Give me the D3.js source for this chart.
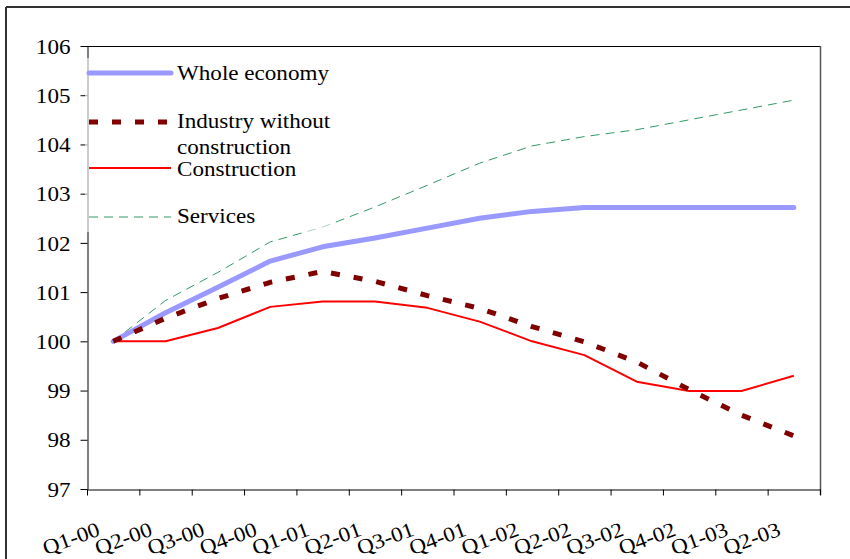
<!DOCTYPE html>
<html>
<head>
<meta charset="utf-8">
<script src="https://cdn.jsdelivr.net/npm/d3@7/dist/d3.min.js"></script>
<style>
  html, body { margin: 0; padding: 0; background: #fff; }
  svg { display: block; }
</style>
</head>
<body>
<svg id="chart" width="850" height="559"></svg>
<script>
// Quarterly labels
const categories = ["Q1-00","Q2-00","Q3-00","Q4-00","Q1-01","Q2-01","Q3-01","Q4-01",
                    "Q1-02","Q2-02","Q3-02","Q4-02","Q1-03","Q2-03"];

// Index values (Q1-00 = 100)
const wholeEconomy = [100, 100.58, 101.1, 101.63, 101.92, 102.1, 102.3, 102.5, 102.64, 102.72,
                      102.72, 102.72, 102.72, 102.72];
const industry     = [100, 100.47, 100.87, 101.2, 101.42, 101.22, 100.93, 100.67, 100.3, 99.99,
                      99.58, 99.02, 98.5, 98.08];
const construction = [100, 100, 100.27, 100.7, 100.81, 100.81, 100.68, 100.4, 100, 99.72,
                      99.18, 98.99, 98.99, 99.3];
const services     = [100, 100.83, 101.4, 102.02, 102.32, 102.73, 103.17, 103.62, 103.97, 104.16,
                      104.3, 104.5, 104.7, 104.9];

const yTicks = [97, 98, 99, 100, 101, 102, 103, 104, 105, 106];

const series = [
  { name: ["Whole economy"], values: wholeEconomy, color: "#9999ff", width: 5, dash: null, cap: "round" },
  { name: ["Industry without", "construction"], values: industry, color: "#800000", width: 5, dash: "9,14", cap: "butt" },
  { name: ["Construction"], values: construction, color: "#ff0000", width: 2, dash: null, cap: "butt" },
  { name: ["Services"], values: services, color: "#339966", width: 1, dash: "9,6", cap: "butt" }
];

const svg = d3.select("#chart").attr("font-family", "Liberation Serif");
const plot = { left: 87, right: 820, top: 46, bottom: 489 };
const FONT = '"Liberation Serif"';
const FS = 21, SX = 1.1;

// outer frame
svg.append("line").attr("x1", 6).attr("x2", 850).attr("y1", 7).attr("y2", 7)
  .attr("stroke", "#333").attr("stroke-width", 2);
svg.append("line").attr("x1", 6).attr("x2", 6).attr("y1", 7).attr("y2", 559)
  .attr("stroke", "#333").attr("stroke-width", 2);

const x = d3.scaleBand().domain(categories).range([plot.left, plot.right]);
const xEdge = d3.scaleLinear().domain([0, categories.length]).range([plot.left, plot.right]);
const y = d3.scaleLinear().domain([97, 106]).range([plot.bottom, plot.top]);

// plot frame: top and right borders
svg.append("line").attr("x1", plot.left).attr("x2", plot.right).attr("y1", plot.top + 0.5).attr("y2", plot.top + 0.5)
  .attr("stroke", "#000").attr("stroke-width", 1);
svg.append("line").attr("x1", plot.right + 0.5).attr("x2", plot.right + 0.5).attr("y1", plot.top).attr("y2", plot.bottom + 6)
  .attr("stroke", "#555").attr("stroke-width", 1.5);

// y axis
const yAxis = svg.append("g").attr("transform", `translate(${plot.left + 0.5},0)`)
  .call(d3.axisLeft(y).tickValues(yTicks).tickSize(7).tickSizeOuter(0).tickFormat(d3.format("d")));
yAxis.attr("font-family", "Liberation Serif").attr("font-size", FS);
yAxis.selectAll("path, line").attr("stroke", "#000");
yAxis.selectAll("text")
  .attr("x", 0).attr("dy", "0.34em")
  .attr("fill", "#000")
  .attr("transform", `translate(-17,0) scale(${SX},1)`)
  .style("font-size", FS + "px").style("font-family", FONT);

// x axis (ticks at category boundaries)
const xAxis = svg.append("g").attr("transform", `translate(0,${plot.bottom + 0.5})`)
  .call(d3.axisBottom(xEdge).tickValues(d3.range(categories.length + 1)).tickSize(6).tickSizeOuter(0).tickFormat(""));
xAxis.selectAll("path, line").attr("stroke", "#000");

svg.append("g").selectAll("text").data(categories).join("text")
  .attr("text-anchor", "end")
  .attr("fill", "#000")
  .attr("transform", d => `translate(${x(d) + x.bandwidth() / 2 - 12},535) rotate(-20) scale(${SX},1)`)
  .style("font-size", FS + "px").style("font-family", FONT)
  .text(d => d);

// series lines
const line = d3.line()
  .x((d, i) => x(categories[i]) + x.bandwidth() / 2)
  .y(d => y(d));

const order = [3, 2, 0, 1];
svg.append("g").selectAll("path").data(order.map(i => series[i])).join("path")
  .attr("d", s => line(s.values))
  .attr("fill", "none")
  .attr("stroke", s => s.color)
  .attr("stroke-width", s => s.width)
  .attr("stroke-dasharray", s => s.dash)
  .attr("stroke-linecap", s => s.cap)
  .attr("stroke-linejoin", "round");

// legend
svg.append("rect").attr("x", plot.left - 2).attr("y", 58).attr("width", 250).attr("height", 174)
  .attr("fill", "#fff").attr("opacity", 0.6);

const legendY = [73, 122, 168, 217];
const baselines = [[80], [128, 154], [176], [223]];
const lg = svg.append("g");
series.forEach((s, i) => {
  lg.append("line").attr("x1", 89).attr("x2", 171).attr("y1", legendY[i]).attr("y2", legendY[i])
    .attr("stroke", s.color).attr("stroke-width", s.width)
    .attr("stroke-dasharray", s.dash).attr("stroke-linecap", s.cap);
  s.name.forEach((t, j) => {
    lg.append("text")
      .attr("fill", "#000")
      .attr("transform", `translate(177,${baselines[i][j]}) scale(${SX},1)`)
      .style("font-size", FS + "px").style("font-family", FONT)
      .text(t);
  });
});
</script>
</body>
</html>
